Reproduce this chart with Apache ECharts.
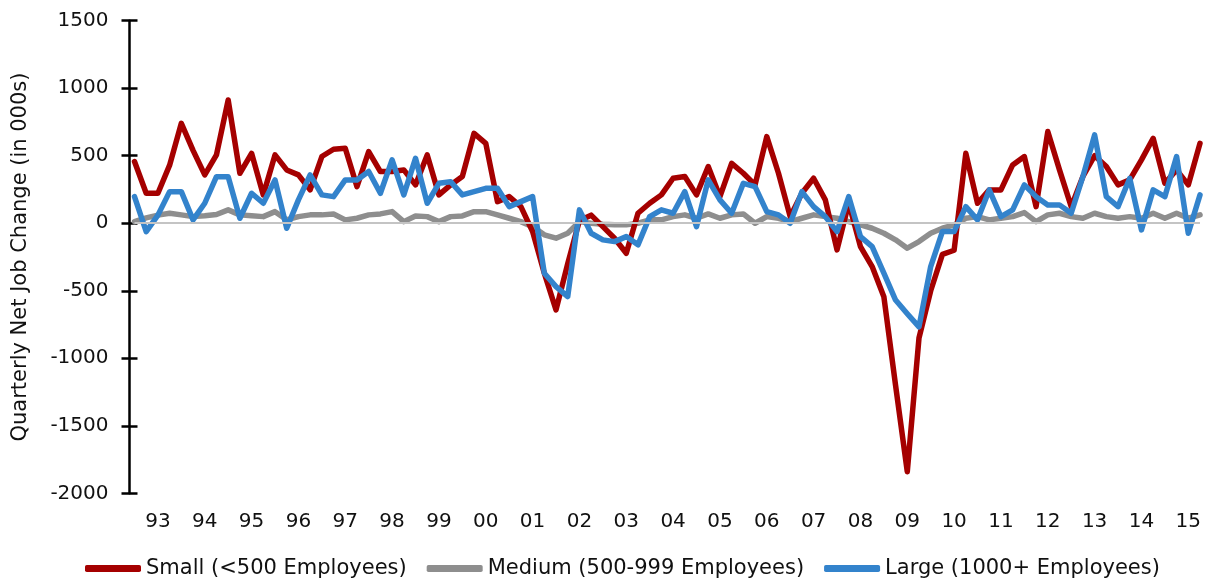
<!DOCTYPE html>
<html>
<head>
<meta charset="utf-8">
<script src="https://cdn.jsdelivr.net/npm/echarts@6/dist/echarts.min.js"></script>
<style>
  html, body { margin: 0; padding: 0; background: #fff; }
  #chart { width: 1207px; height: 580px; }
</style>
</head>
<body>
<div id="chart"></div>
<script>
// quarters, 1992 Q3 .. 2015 Q2
var quarters = [
  '92Q3','92Q4',
  '93Q1','93Q2','93Q3','93Q4', '94Q1','94Q2','94Q3','94Q4',
  '95Q1','95Q2','95Q3','95Q4', '96Q1','96Q2','96Q3','96Q4',
  '97Q1','97Q2','97Q3','97Q4', '98Q1','98Q2','98Q3','98Q4',
  '99Q1','99Q2','99Q3','99Q4', '00Q1','00Q2','00Q3','00Q4',
  '01Q1','01Q2','01Q3','01Q4', '02Q1','02Q2','02Q3','02Q4',
  '03Q1','03Q2','03Q3','03Q4', '04Q1','04Q2','04Q3','04Q4',
  '05Q1','05Q2','05Q3','05Q4', '06Q1','06Q2','06Q3','06Q4',
  '07Q1','07Q2','07Q3','07Q4', '08Q1','08Q2','08Q3','08Q4',
  '09Q1','09Q2','09Q3','09Q4', '10Q1','10Q2','10Q3','10Q4',
  '11Q1','11Q2','11Q3','11Q4', '12Q1','12Q2','12Q3','12Q4',
  '13Q1','13Q2','13Q3','13Q4', '14Q1','14Q2','14Q3','14Q4',
  '15Q1','15Q2'
];

var seriesNames = ['Small (<500 Employees)', 'Medium (500-999 Employees)', 'Large (1000+ Employees)'];

var small = [
  457, 222,
  222, 430, 740, 540,  358, 506, 913, 370,
  518, 210, 506, 395,  358, 247, 494, 548,
  555, 271, 530, 383,  383, 395, 284, 506,
  210, 284, 346, 666,  592, 160, 197, 123,
  -62, -370, -642, -300,  20, 60, -25, -111,
  -222, 74, 148, 210,  333, 346, 210, 420,
  197, 444, 370, 284,  642, 370, 49, 222,
  333, 173, -197, 150,  -173, -321, -544, -1200,
  -1840, -850, -500, -230,  -200, 518, 148, 247,
  247, 432, 494, 123,  679, 395, 123, 346,
  500, 420, 284, 321,  469, 629, 296, 395,
  284, 592
];

var medium = [
  12, 40,
  60, 74, 62, 49,  55, 65, 99, 62,
  55, 49, 86, 25,  49, 62, 62, 69,
  25, 37, 62, 69,  86, 12, 54, 49,
  12, 49, 54, 86,  86, 62, 37, 12,
  -25, -86, -111, -74,  12, 0, -7, -12,
  -12, 0, 25, 25,  49, 62, 37, 69,
  37, 62, 69, 0,  49, 37, 12, 37,
  62, 49, 37, 12,  -12, -37, -74, -123,
  -185, -136, -74, -37,  -12, 37, 49, 25,
  37, 49, 79, 12,  62, 74, 49, 37,
  74, 49, 37, 49,  37, 74, 37, 74,
  37, 62
];

var large = [
  197, -62,
  60, 234, 234, 25,  148, 345, 345, 37,
  222, 148, 321, -37,  173, 358, 210, 197,
  321, 321, 383, 222,  469, 210, 481, 148,
  296, 308, 210, 234,  259, 259, 123, 160,
  197, -370, -469, -543,  99, -74, -123, -136,
  -99, -160, 49, 99,  74, 234, -25, 321,
  173, 74, 296, 271,  86, 62, 0, 234,
  123, 49, -62, 197,  -99, -173, -370, -569,
  -670, -767, -321, -62,  -62, 123, 25, 247,
  49, 99, 284, 197,  136, 136, 74, 346,
  654, 197, 123, 333,  -49, 247, 197, 494,
  -74, 210
];

var colors = ['#a50000', '#8e8e8e', '#3383cc'];
var font = 'DejaVu Sans';

var chart = echarts.init(document.getElementById('chart'));

function lineSeries(name, data, color, z) {
  return {
    name: name,
    type: 'line',
    data: data,
    z: z,
    symbol: 'none',
    smooth: false,
    color: color,
    lineStyle: { color: color, width: 5.5, cap: 'round', join: 'round' },
    emphasis: { disabled: true }
  };
}

var option = {
  animation: false,
  grid: { left: 134.5, right: 7, top: 20.7, bottom: 86.7 },
  legend: {
    data: seriesNames,
    left: 80,
    top: 553,
    icon: 'roundRect',
    itemWidth: 56,
    itemHeight: 7,
    itemGap: 20,
    textStyle: { fontFamily: font, fontSize: 21, color: '#111' }
  },
  xAxis: {
    type: 'category',
    data: quarters,
    boundaryGap: false,
    axisLine: { show: false },
    axisTick: { show: false },
    splitLine: { show: false },
    axisLabel: {
      interval: function (idx) { return idx % 4 === 2; },
      formatter: function (v) { return v.slice(0, 2); },
      margin: 18,
      fontFamily: font,
      fontSize: 20,
      color: '#111'
    }
  },
  yAxis: [{
    type: 'value',
    position: 'left',
    offset: 5,
    min: -2000,
    max: 1500,
    interval: 500,
    name: 'Quarterly Net Job Change (in 000s)',
    nameLocation: 'middle',
    nameGap: 98,
    nameTextStyle: { fontFamily: font, fontSize: 21, color: '#111' },
    axisLine: { show: true, lineStyle: { color: '#000', width: 2.5 } },
    axisTick: { show: true, inside: false, length: 8, lineStyle: { color: '#000', width: 2.5 } },
    splitLine: { show: false },
    axisLabel: {
      margin: 21, fontFamily: font, fontSize: 20, color: '#111',
      formatter: function (v) { return String(v); }
    }
  }, {
    // second copy of the axis, shifted right, so the ticks cross the line
    type: 'value',
    position: 'left',
    offset: -3,
    min: -2000,
    max: 1500,
    interval: 500,
    axisLine: { show: false },
    axisTick: { show: true, inside: false, length: 8, lineStyle: { color: '#000', width: 2.5 } },
    splitLine: { show: false },
    axisLabel: { show: false }
  }],
  series: [
    {
      name: 'zero',
      type: 'line',
      data: [],
      z: 1,
      markLine: {
        silent: true,
        symbol: 'none',
        label: { show: false },
        lineStyle: { color: '#c4c4c4', width: 2, type: 'solid' },
        data: [{ yAxis: 0 }]
      }
    },
    lineSeries(seriesNames[0], small, colors[0], 3),
    lineSeries(seriesNames[1], medium, colors[1], 2),
    lineSeries(seriesNames[2], large, colors[2], 4)
  ]
};

chart.setOption(option);
</script>
</body>
</html>
